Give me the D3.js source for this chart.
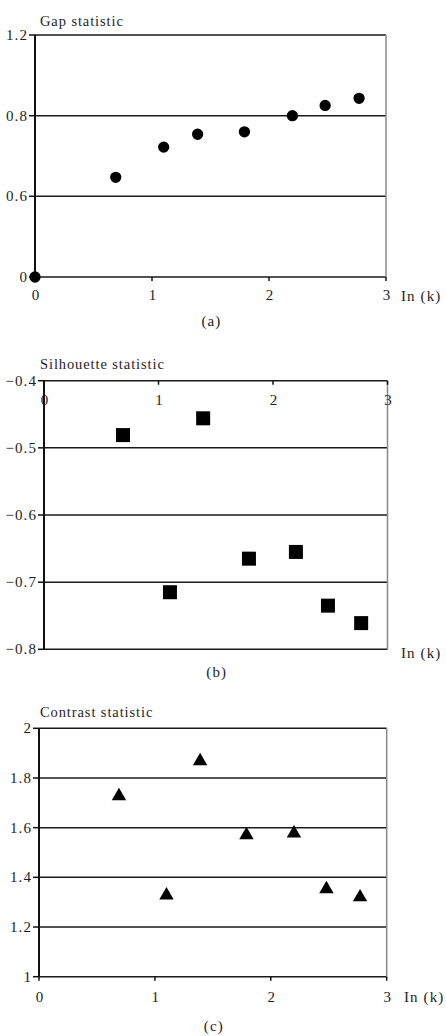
<!DOCTYPE html>
<html lang="en">
<head>
<meta charset="utf-8">
<script src="https://cdn.jsdelivr.net/npm/d3@7"></script>
<style type="text/css">
body {
	margin: 0;
	background-color: #ffffff;
}
svg text {
	font-family: "Liberation Serif", "DejaVu Serif", serif;
	fill: #1e1e1e;
}
.tick-label { font-size: 15px; letter-spacing: 1.1px; }
.title { font-size: 14.5px; letter-spacing: 0.9px; }
.grid line { stroke: #1a1a1a; stroke-width: 1.5; }
</style>
</head>
<body>
<script type="text/javascript">

// x values: ln(k) for k = 1,2,3,4,6,9,12,16
var lnK = [0, 0.69, 1.10, 1.39, 1.79, 2.20, 2.48, 2.77];
var xTicks = [0, 1, 2, 3];

// (a) gap statistic
var gapX = lnK;
var gapValues = [0, 0.647, 0.722, 0.754, 0.760, 0.800, 0.851, 0.886];
var gapTicks = [0, 0.6, 0.8, 1.2];

// (b) silhouette statistic
var silX = lnK.slice(1);
var silValues = [-0.481, -0.715, -0.456, -0.665, -0.655, -0.735, -0.761];
var silTicks = [-0.8, -0.7, -0.6, -0.5, -0.4];

// (c) contrast statistic
var conX = lnK.slice(1);
var conValues = [1.727, 1.328, 1.868, 1.570, 1.577, 1.353, 1.320];
var conTicks = [1, 1.2, 1.4, 1.6, 1.8, 2];

var width = 446, height = 1036;

var svg = d3.select("body")
	.append("svg")
	.attr("width", width)
	.attr("height", height);

var fmt = function(d) {
	var s = String(d);
	return s.replace("-", "\u2212");
};

// draws one panel
function panel(opt) {
	var g = svg.append("g");
	var x = d3.scaleLinear().domain([0, 3]).range([opt.left, opt.right]);
	var y = opt.y;

	// horizontal gridlines
	g.append("g").attr("class", "grid")
		.selectAll("line")
		.data(opt.yTicks)
		.enter()
		.append("line")
		.attr("x1", opt.left)
		.attr("x2", opt.right)
		.attr("y1", function(d) { return y(d); })
		.attr("y2", function(d) { return y(d); });

	// right border
	g.append("line")
		.attr("x1", opt.right).attr("x2", opt.right)
		.attr("y1", y.range()[0]).attr("y2", y.range()[y.range().length - 1])
		.style("stroke", "#888")
		.style("stroke-width", 1.5);

	// y axis
	var yTop = d3.min(y.range()), yBot = d3.max(y.range());
	g.append("line")
		.attr("x1", opt.left).attr("x2", opt.left)
		.attr("y1", yTop).attr("y2", yBot)
		.style("stroke", "#111").style("stroke-width", 2);

	g.selectAll(".ytick")
		.data(opt.yTicks)
		.enter()
		.append("line")
		.attr("x1", opt.left - 6).attr("x2", opt.left)
		.attr("y1", function(d) { return y(d); })
		.attr("y2", function(d) { return y(d); })
		.style("stroke", "#111").style("stroke-width", 1.5);

	g.selectAll(".ylab")
		.data(opt.yTicks)
		.enter()
		.append("text")
		.attr("class", "tick-label")
		.attr("x", opt.left - 7)
		.attr("y", function(d) { return y(d) + 5; })
		.attr("text-anchor", "end")
		.text(fmt);

	// x axis ticks
	var xAxisY = y(opt.xAxisAt);
	g.selectAll(".xtick")
		.data(xTicks)
		.enter()
		.append("line")
		.attr("x1", function(d) { return x(d); })
		.attr("x2", function(d) { return x(d); })
		.attr("y1", xAxisY).attr("y2", xAxisY + 4)
		.style("stroke", "#111").style("stroke-width", 1.5);

	g.selectAll(".xlab")
		.data(xTicks)
		.enter()
		.append("text")
		.attr("class", "tick-label")
		.attr("x", function(d) { return x(d) + 1; })
		.attr("y", xAxisY + opt.xLabOff)
		.attr("text-anchor", "middle")
		.text(fmt);

	// titles
	g.append("text").attr("class", "title")
		.attr("x", 40).attr("y", opt.titleY)
		.text(opt.title);
	g.append("text").attr("class", "tick-label")
		.attr("x", opt.unitX).attr("y", opt.unitY)
		.text("In (k)");
	g.append("text").attr("class", "tick-label")
		.attr("x", (opt.left + opt.right) / 2 + 1).attr("y", opt.capY)
		.attr("text-anchor", "middle")
		.text(opt.caption);

	// markers
	var sym = d3.symbol().type(opt.symbol).size(opt.size);
	g.selectAll(".pt")
		.data(opt.xs)
		.enter()
		.append("path")
		.attr("d", sym)
		.attr("transform", function(d, i) {
			return "translate(" + x(d) + "," + y(opt.values[i]) + ")";
		})
		.style("fill", "#000");
}

panel({
	left: 35, right: 386,
	y: d3.scaleLinear().domain([0, 0.6, 0.8, 1.2]).range([277, 196.3, 115.7, 35]),
	yTicks: gapTicks, xAxisAt: 0, xLabOff: 23,
	title: "Gap statistic", titleY: 26,
	unitX: 401, unitY: 301, caption: "(a)", capY: 326,
	xs: gapX, values: gapValues, symbol: d3.symbolCircle, size: 100
});

panel({
	left: 44, right: 387.5,
	y: d3.scaleLinear().domain([-0.8, -0.4]).range([649.3, 380.7]),
	yTicks: silTicks, xAxisAt: -0.4, xLabOff: 24,
	title: "Silhouette statistic", titleY: 369,
	unitX: 401, unitY: 658, caption: "(b)", capY: 677,
	xs: silX, values: silValues, symbol: d3.symbolSquare, size: 196
});

panel({
	left: 39, right: 386.7,
	y: d3.scaleLinear().domain([1, 2]).range([976.7, 728.3]),
	yTicks: conTicks, xAxisAt: 1, xLabOff: 25,
	title: "Contrast statistic", titleY: 717,
	unitX: 404, unitY: 1002, caption: "(c)", capY: 1031,
	xs: conX, values: conValues, symbol: d3.symbolTriangle, size: 90
});

</script>
</body>
</html>
